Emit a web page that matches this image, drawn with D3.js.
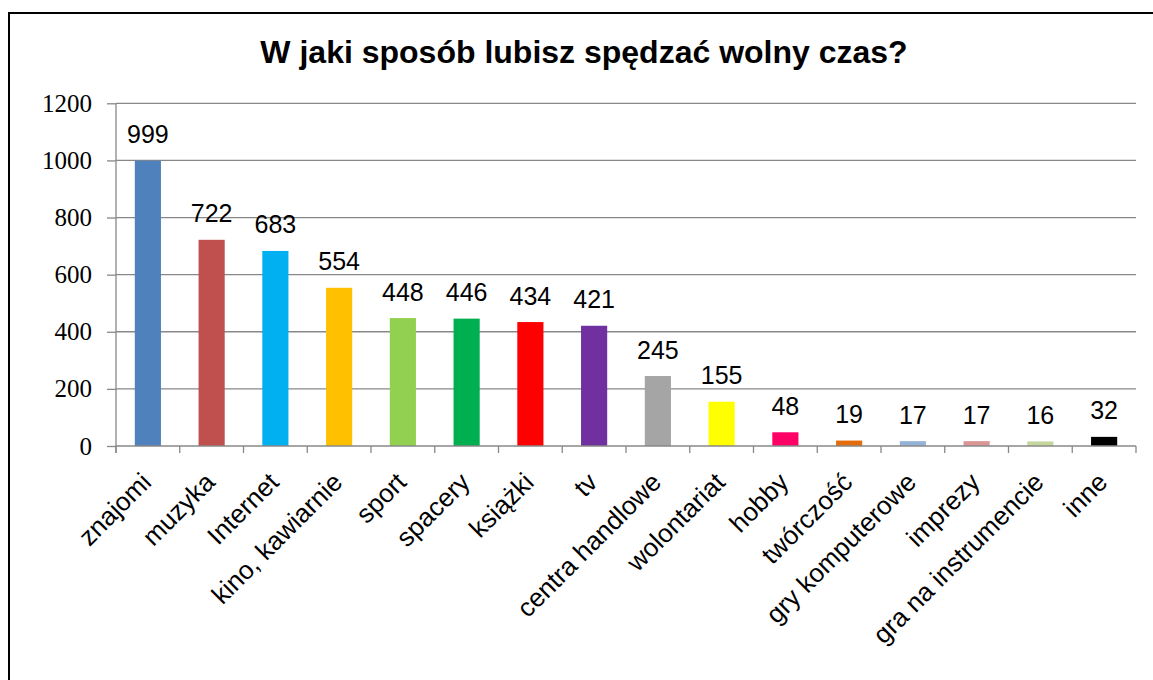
<!DOCTYPE html>
<html><head><meta charset="utf-8">
<script src="https://cdn.jsdelivr.net/npm/d3@7"></script>
<style>body{margin:0;background:#fff}svg{display:block}
.ylab{font-family:"Liberation Serif","Times New Roman",Times,"DejaVu Serif",serif;font-size:25px}
</style>
</head><body>
<svg id="c" width="1153" height="680"></svg>
<script>
const categories = ["znajomi","muzyka","Internet","kino, kawiarnie","sport","spacery","książki","tv","centra handlowe","wolontariat","hobby","twórczość","gry komputerowe","imprezy","gra na instrumencie","inne"];
const values = [999,722,683,554,448,446,434,421,245,155,48,19,17,17,16,32];
const colors = ["#4F81BD","#C0504D","#00B0F0","#FFC000","#92D050","#00B050","#FF0000","#7030A0","#A5A5A5","#FFFF00","#FF0066","#E46C0A","#95B3D7","#D99694","#C3D69B","#000000"];
const yTicks = [0,200,400,600,800,1000,1200];
const title = "W jaki sposób lubisz spędzać wolny czas?";

(function(){
const svg = d3.select("#c");
svg.append("rect").attr("x",9).attr("y",13).attr("width",1300).attr("height",800)
  .attr("fill","#fff").attr("stroke","#000").attr("stroke-width",2);

const pl=116, pr=1136, pt=103.3, pb=446;
const x = d3.scaleBand().domain(categories).range([pl,pr]).paddingInner(0.59).paddingOuter(0.295);
const xb = d3.scaleBand().domain(categories).range([pl,pr]);
const y = d3.scaleLinear().domain([0,1200]).range([pb,pt]);
const sans = "'Liberation Sans', Arial, sans-serif";

svg.append("g").selectAll("line").data(yTicks.filter(d=>d>0)).join("line")
  .attr("x1",pl).attr("x2",pr).attr("y1",d=>y(d)).attr("y2",d=>y(d))
  .attr("stroke","#888").attr("stroke-width",1.3);

const yAxis = svg.append("g").attr("transform",`translate(${pl},0)`)
  .call(d3.axisLeft(y).tickValues(yTicks).tickSize(9).tickPadding(15).tickFormat(d3.format("d")));
yAxis.attr("font-family",null).attr("font-size",null);
yAxis.select(".domain").attr("stroke","#888").attr("stroke-width",1.3).attr("d",`M0,${pb+7}V${pt}`);
yAxis.selectAll(".tick line").attr("stroke","#888").attr("stroke-width",1.3);
yAxis.selectAll(".tick text").attr("class","ylab").attr("fill","#000");

svg.append("g").selectAll("rect").data(values).join("rect")
  .attr("x",(d,i)=>x(categories[i])).attr("width",x.bandwidth())
  .attr("y",d=>y(d)).attr("height",d=>pb-y(d))
  .attr("fill",(d,i)=>colors[i]);

const xAxis = svg.append("g").attr("transform",`translate(0,${pb})`);
xAxis.append("line").attr("x1",pl).attr("x2",pr).attr("stroke","#888").attr("stroke-width",1.3);
const bounds = categories.map(c=>xb(c)).concat([pr]);
xAxis.selectAll("line.t").data(bounds).join("line").attr("class","t")
  .attr("x1",d=>d).attr("x2",d=>d).attr("y1",0).attr("y2",7)
  .attr("stroke","#888").attr("stroke-width",1.3);

svg.append("g").selectAll("text").data(categories).join("text")
  .attr("transform",d=>`translate(${x(d)+x.bandwidth()/2-8},${pb+25}) rotate(-45)`)
  .attr("text-anchor","end").attr("dy","0.7em")
  .style("font-family",sans).style("font-size","26px").attr("fill","#000")
  .text(d=>d);

svg.append("g").selectAll("text").data(values).join("text")
  .attr("x",(d,i)=>x(categories[i])+x.bandwidth()/2).attr("y",d=>y(d)-17.5)
  .attr("text-anchor","middle")
  .style("font-family",sans).style("font-size","25px").attr("fill","#000")
  .text(d=>d);

svg.append("text").attr("x",584).attr("y",63).attr("text-anchor","middle")
  .style("font-family",sans).style("font-weight","bold").style("font-size","32px")
  .attr("fill","#000").text(title);
})();
</script>
</body></html>
